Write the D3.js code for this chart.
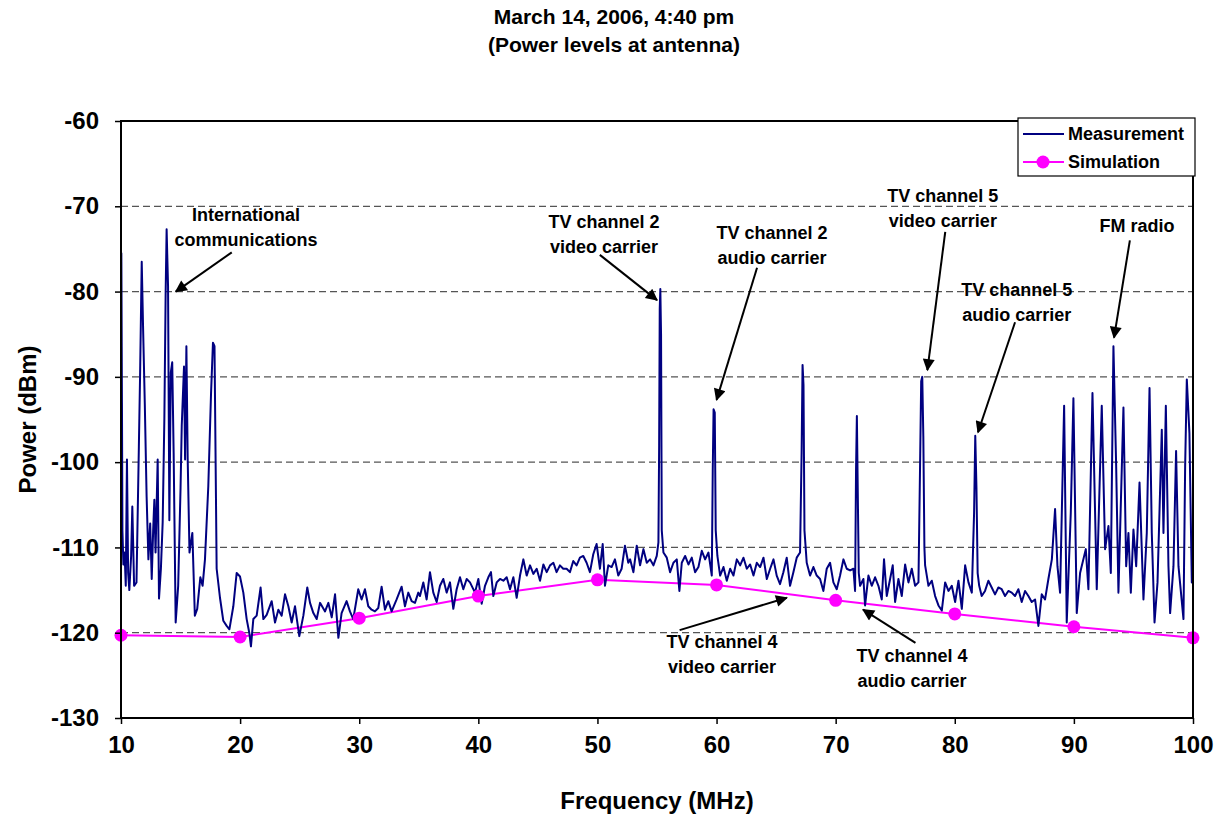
<!DOCTYPE html>
<html>
<head>
<meta charset="utf-8">
<script src="https://d3js.org/d3.v7.min.js"></script>
<style>
  body { margin: 0; background: #fff; }
  svg { font-family: "Liberation Sans", Arial, sans-serif; font-weight: bold; }
</style>
</head>
<body>
<div class="vis"></div>
<script>
  const measurement = [
    [10.0,-76],[10.03,-75.5],[10.08,-93],[10.12,-108],[10.2,-112],[10.3,-110.6],[10.4,-114.5],[10.5,-99.7],
    [10.6,-113],[10.7,-115],[10.85,-111],[10.95,-105.2],[11.1,-114.5],[11.3,-114.1],[11.5,-98.2],[11.6,-90],
    [11.74,-76.5],[11.85,-84],[12.0,-93.3],[12.15,-104],[12.3,-111.4],[12.45,-107.2],[12.58,-113.7],[12.7,-108],
    [12.8,-104.4],[12.9,-110.6],[13.08,-99.7],[13.19,-116],[13.35,-112.5],[13.5,-107],[13.64,-94.9],[13.75,-80],
    [13.83,-72.7],[13.95,-79.4],[14.06,-106.8],[14.18,-89.5],[14.3,-88.3],[14.42,-98.9],[14.59,-118.8],[14.8,-114.5],
    [15.0,-103],[15.1,-95.7],[15.29,-88.8],[15.38,-99.7],[15.49,-86.4],[15.6,-99.7],[15.75,-110.6],[15.99,-108.3],
    [16.2,-118],[16.4,-117.2],[16.66,-113.5],[16.85,-114.5],[17.05,-111.4],[17.33,-102.8],[17.56,-91.9],[17.72,-86],
    [17.85,-86.4],[18.03,-112.5],[18.31,-115.9],[18.59,-118.6],[18.87,-119.2],[19.1,-119.6],[19.43,-116.9],[19.71,-113],
    [19.99,-113.4],[20.27,-115.3],[20.55,-118.4],[20.77,-120],[20.91,-121.6],[21.11,-118.4],[21.39,-118],[21.72,-114.7],
    [21.95,-118.4],[22.23,-117.9],[22.65,-116.3],[22.93,-118.8],[23.21,-117.3],[23.49,-118],[23.77,-115.5],[24.05,-116.9],
    [24.33,-118.8],[24.61,-116.9],[24.97,-120.4],[25.31,-118],[25.64,-114.7],[25.87,-116.5],[26.15,-117.7],[26.43,-118.4],
    [26.71,-116.5],[27.13,-117.5],[27.41,-116.5],[27.69,-118.2],[27.97,-115.5],[28.25,-120.6],[28.52,-117.7],[28.94,-116.3],
    [29.22,-117.5],[29.5,-118.4],[29.92,-114.9],[30.2,-116.1],[30.48,-114.9],[30.76,-116.9],[31.04,-117.3],[31.32,-117.5],
    [31.6,-117.1],[31.88,-114.6],[32.16,-117.3],[32.44,-116.3],[32.72,-117.5],[33.14,-116.1],[33.56,-114.6],[33.84,-116.9],
    [34.12,-115.3],[34.4,-116.3],[34.68,-116.5],[34.96,-115.3],[35.1,-115.7],[35.38,-114.1],[35.66,-116.1],[35.94,-112.9],
    [36.22,-115.3],[36.5,-116.4],[36.78,-114.5],[37.06,-113.7],[37.34,-115.3],[37.62,-114.1],[37.9,-117.2],[38.18,-114.9],
    [38.46,-113.5],[38.74,-114.9],[39.02,-113.7],[39.3,-114.1],[39.72,-115.3],[40.0,-113.7],[40.28,-116.6],[40.56,-114.5],
    [40.84,-113.5],[41.06,-112.9],[41.26,-115.7],[41.54,-114.1],[41.82,-113.7],[42.1,-113.9],[42.38,-113.5],[42.66,-114.9],
    [42.94,-113.5],[43.22,-115.9],[43.5,-113.3],[43.78,-111.4],[44.06,-113.3],[44.34,-112.1],[44.62,-113.1],[44.9,-112.5],
    [45.18,-113.9],[45.46,-112],[45.74,-112.9],[46.02,-112.1],[46.3,-111.8],[46.57,-112.9],[46.85,-112.1],[47.13,-112.5],
    [47.41,-112.5],[47.69,-112.9],[47.97,-111.6],[48.25,-112.1],[48.53,-111.2],[48.81,-111],[49.09,-111.8],[49.37,-112.9],
    [49.65,-110.8],[49.93,-109.6],[50.21,-112.5],[50.44,-109.6],[50.63,-114.5],[50.91,-112.1],[51.19,-112.3],[51.47,-111.4],
    [51.75,-113.3],[52.03,-112.5],[52.31,-109.8],[52.59,-111.8],[52.74,-111.4],[53.02,-112.9],[53.3,-109.8],[53.58,-112.1],
    [53.86,-110.2],[54.14,-111.8],[54.42,-111.4],[54.7,-112.1],[54.98,-111],[55.12,-109.4],[55.18,-98],[55.23,-82],
    [55.28,-79.7],[55.34,-85],[55.4,-108],[55.54,-110.6],[55.82,-111.2],[56.1,-112.9],[56.38,-111.8],[56.66,-111.4],
    [56.88,-115.1],[57.08,-111.8],[57.36,-111],[57.64,-112],[57.92,-111.2],[58.2,-112.9],[58.48,-112.3],[58.76,-110.4],
    [59.04,-111.4],[59.32,-110.6],[59.6,-113.3],[59.68,-101],[59.75,-93.8],[59.85,-94.2],[59.93,-108],[60.07,-111],
    [60.3,-113.3],[60.58,-112.3],[60.86,-113.9],[61.14,-112.5],[61.42,-113.3],[61.7,-111.4],[61.98,-112.1],[62.26,-111.2],
    [62.54,-112.5],[62.82,-112],[63.1,-113.3],[63.38,-111.8],[63.66,-112.3],[63.94,-111.2],[64.22,-113.7],[64.5,-112.5],
    [64.78,-111.4],[65.05,-113.3],[65.33,-114.3],[65.61,-112.9],[65.89,-111.2],[66.17,-114.5],[66.45,-112.9],[66.73,-111.2],
    [67.01,-110.6],[67.14,-99],[67.22,-88.6],[67.3,-91],[67.38,-108],[67.57,-111.8],[67.85,-113.3],[68.13,-112.3],
    [68.41,-113.3],[68.69,-113.7],[68.97,-115.1],[69.25,-112.5],[69.53,-111.8],[69.81,-114.1],[70.09,-114.9],[70.37,-113.3],
    [70.65,-111.4],[70.93,-112.5],[71.21,-112.7],[71.49,-112.5],[71.63,-115.1],[71.71,-101],[71.78,-94.6],[71.86,-104],
    [71.94,-113],[72.05,-114.5],[72.33,-113.7],[72.47,-116.8],[72.75,-113.3],[73.03,-114.5],[73.31,-113.5],[73.59,-114.5],
    [73.87,-116.1],[74.06,-111.4],[74.29,-115.7],[74.57,-113.7],[74.79,-112.1],[74.99,-116.4],[75.27,-113.7],[75.55,-115.7],
    [75.83,-112],[76.11,-114.1],[76.39,-112.5],[76.67,-114.5],[76.95,-114.1],[77.08,-101],[77.18,-90.5],[77.27,-90],
    [77.36,-97],[77.45,-110],[77.51,-112.1],[77.79,-114.5],[78.07,-113.9],[78.35,-115.7],[78.63,-116.8],[78.91,-117.4],
    [79.19,-114.1],[79.47,-115.1],[79.75,-114.5],[80.03,-116.4],[80.31,-113.9],[80.59,-117.2],[80.87,-112.1],[81.15,-114.1],
    [81.43,-115.3],[81.62,-106],[81.72,-96.9],[81.82,-103],[81.92,-113],[82.05,-114.5],[82.26,-115.7],[82.54,-115.1],
    [82.82,-113.9],[83.1,-114.7],[83.38,-115.5],[83.66,-114.7],[83.94,-114.9],[84.22,-115.7],[84.5,-115.1],[84.78,-115.3],
    [85.06,-115.7],[85.34,-114.9],[85.62,-116.4],[85.9,-115.1],[86.18,-115.7],[86.46,-116.4],[86.74,-116.1],[87.02,-119.2],
    [87.3,-115.5],[87.58,-116.1],[87.86,-113.7],[88.15,-111.4],[88.42,-105.5],[88.62,-112.2],[88.84,-115.3],[89.18,-93.4],
    [89.4,-118.8],[89.74,-105.9],[89.96,-92.5],[90.24,-117.7],[90.52,-113],[91.0,-110.2],[91.22,-114.9],[91.56,-91.9],
    [91.92,-114.9],[92.34,-93.4],[92.62,-110.2],[92.9,-107.5],[93.1,-113],[93.32,-86.4],[93.55,-100.5],[93.74,-115.3],
    [94.16,-93.6],[94.39,-112.2],[94.58,-108.3],[94.78,-115.3],[95.0,-107.9],[95.23,-112.2],[95.51,-102.4],[95.84,-116.1],
    [96.12,-108.3],[96.35,-91.3],[96.54,-108.3],[96.77,-118.8],[97.02,-114.1],[97.38,-96.2],[97.52,-108.3],[97.72,-93.4],
    [97.94,-112.2],[98.08,-117.7],[98.36,-112.2],[98.58,-98.7],[98.78,-112.2],[99.2,-118.4],[99.34,-100.5],[99.48,-90.3],
    [99.7,-96.6],[99.9,-114.1],[100.0,-114]
  ];

  const simFreq = [10, 20, 30, 40, 50, 60, 70, 80, 90, 100];
  const simPower = [-120.3, -120.5, -118.3, -115.7, -113.8, -114.4, -116.2, -117.8, -119.3, -120.6];

  const xTicks = [10, 20, 30, 40, 50, 60, 70, 80, 90, 100];
  const yTicks = [-60, -70, -80, -90, -100, -110, -120, -130];

  // annotations: text anchor and arrow in data units
  const notes = [
    {lines: ["International", "communications"], f: 20.5, v: -71.0, from: [19.3, -75.4], to: [14.6, -80.0]},
    {lines: ["TV channel 2", "video carrier"], f: 50.55, v: -71.8, from: [50.2, -75.7], to: [55.0, -81.0]},
    {lines: ["TV channel 2", "audio carrier"], f: 64.66, v: -73.1, from: [63.4, -77.2], to: [60.0, -92.7]},
    {lines: ["TV channel 5", "video carrier"], f: 79.0, v: -68.8, from: [79.2, -73.0], to: [77.7, -89.2]},
    {lines: ["TV channel 5", "audio carrier"], f: 85.2, v: -79.8, from: [85.06, -83.6], to: [81.95, -96.5]},
    {lines: ["FM radio"], f: 95.3, v: -72.3, from: [94.7, -74.0], to: [93.37, -85.4]},
    {lines: ["TV channel 4", "video carrier"], f: 60.46, v: -121.1, from: [56.9, -119.7], to: [65.9, -115.9]},
    {lines: ["TV channel 4", "audio carrier"], f: 76.41, v: -122.7, from: [76.7, -121.2], to: [72.3, -117.3]}
  ];

  const W = 1229, H = 818;
  const m = {left: 121, right: 36, top: 121, bottom: 100};

  const svg = d3.select('.vis').append('svg')
    .attr("width", W).attr("height", H);

  const x = d3.scaleLinear().domain([10, 100]).range([m.left, W - m.right]);
  const y = d3.scaleLinear().domain([-130, -60]).range([H - m.bottom, m.top]);

  svg.append("defs").append("marker")
    .attr("id", "head")
    .attr("viewBox", "0 0 10 10")
    .attr("refX", 9).attr("refY", 5)
    .attr("markerWidth", 7).attr("markerHeight", 6)
    .attr("markerUnits", "strokeWidth")
    .attr("orient", "auto")
    .append("path").attr("d", "M0,0 L10,5 L0,10 z").attr("fill", "#000");

  // gridlines
  svg.append("g")
    .selectAll("line")
    .data(yTicks.filter(d => d > -130 && d < -60))
    .join("line")
    .attr("x1", x(10)).attr("x2", x(100))
    .attr("y1", d => y(d)).attr("y2", d => y(d))
    .attr("stroke", "#555").attr("stroke-width", 1.2)
    .attr("stroke-dasharray", "7,4");

  // simulation
  svg.append("path")
    .datum(simFreq.map((f, i) => [f, simPower[i]]))
    .attr("fill", "none").attr("stroke", "#ff00ff").attr("stroke-width", 2)
    .attr("d", d3.line().x(d => x(d[0])).y(d => y(d[1])));

  // measurement
  svg.append("path")
    .datum(measurement)
    .attr("fill", "none").attr("stroke", "#000080").attr("stroke-width", 2)
    .attr("stroke-linejoin", "round")
    .attr("d", d3.line().x(d => x(d[0])).y(d => y(d[1])));

  svg.append("g")
    .selectAll("circle")
    .data(simFreq)
    .join("circle")
    .attr("cx", d => x(d)).attr("cy", (d, i) => y(simPower[i]))
    .attr("r", 6.5).attr("fill", "#ff00ff");

  // frame
  svg.append("rect")
    .attr("x", x(10)).attr("y", y(-60))
    .attr("width", x(100) - x(10)).attr("height", y(-130) - y(-60))
    .attr("fill", "none").attr("stroke", "#000").attr("stroke-width", 2);

  // axes
  const xAxis = svg.append("g")
    .attr("transform", `translate(0,${y(-130)})`)
    .call(d3.axisBottom(x).tickValues(xTicks).tickSize(6).tickPadding(12).tickFormat(d => String(d)));
  const yAxis = svg.append("g")
    .attr("transform", `translate(${x(10)},0)`)
    .call(d3.axisLeft(y).tickValues(yTicks).tickSize(6).tickPadding(16).tickFormat(d => String(d)));
  [xAxis, yAxis].forEach(a => {
    a.select(".domain").remove();
    a.selectAll("line").attr("stroke", "#000").attr("stroke-width", 1.5);
    a.selectAll("text").attr("font-size", 24).attr("font-family", "Liberation Sans, Arial, sans-serif")
      .attr("font-weight", "bold").attr("fill", "#000");
  });

  // titles
  svg.append("text").attr("x", 614).attr("y", 24).attr("text-anchor", "middle")
    .attr("font-size", 21).text("March 14, 2006, 4:40 pm");
  svg.append("text").attr("x", 614).attr("y", 52).attr("text-anchor", "middle")
    .attr("font-size", 21).text("(Power levels at antenna)");
  svg.append("text").attr("x", (x(10) + x(100)) / 2).attr("y", 809).attr("text-anchor", "middle")
    .attr("font-size", 24).text("Frequency (MHz)");
  svg.append("text").attr("transform", `translate(36,${(y(-60) + y(-130)) / 2}) rotate(-90)`)
    .attr("text-anchor", "middle").attr("font-size", 24).text("Power (dBm)");

  // annotations
  const ann = svg.append("g");
  notes.forEach(n => {
    const t = ann.append("text").attr("text-anchor", "middle").attr("font-size", 18);
    n.lines.forEach((s, i) => {
      t.append("tspan").attr("x", x(n.f)).attr("y", y(n.v) + 6 + i * 25).text(s);
    });
    ann.append("line")
      .attr("x1", x(n.from[0])).attr("y1", y(n.from[1]))
      .attr("x2", x(n.to[0])).attr("y2", y(n.to[1]))
      .attr("stroke", "#000").attr("stroke-width", 2)
      .attr("marker-end", "url(#head)");
  });

  // legend
  const lg = svg.append("g").attr("transform", "translate(1018,118)");
  lg.append("rect").attr("width", 177).attr("height", 58)
    .attr("fill", "#fff").attr("stroke", "#000").attr("stroke-width", 1.2);
  lg.append("line").attr("x1", 5).attr("x2", 46).attr("y1", 16).attr("y2", 16)
    .attr("stroke", "#000080").attr("stroke-width", 2);
  lg.append("line").attr("x1", 5).attr("x2", 46).attr("y1", 44).attr("y2", 44)
    .attr("stroke", "#ff00ff").attr("stroke-width", 2);
  lg.append("circle").attr("cx", 25).attr("cy", 44).attr("r", 6.5).attr("fill", "#ff00ff");
  lg.append("text").attr("x", 50).attr("y", 22).attr("font-size", 18).text("Measurement");
  lg.append("text").attr("x", 50).attr("y", 50).attr("font-size", 18).text("Simulation");
</script>
</body>
</html>
